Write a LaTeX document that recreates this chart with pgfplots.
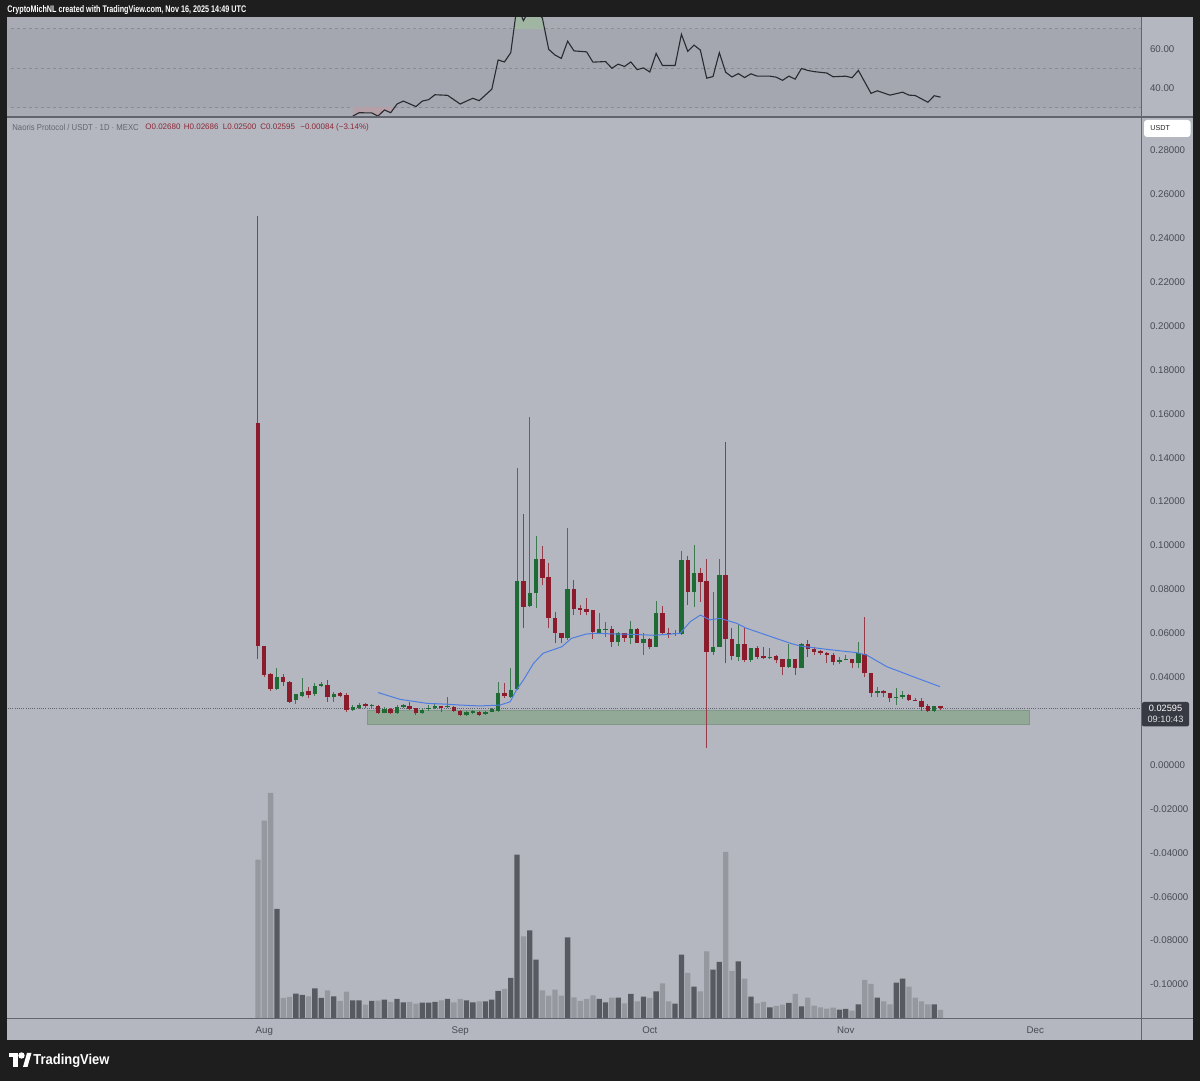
\documentclass[border=0pt]{standalone}
\usepackage{pgfplots}
\pgfplotsset{compat=1.18}
\usepackage{pgfplotstable}
\usepackage{graphicx}
\usepackage{fontspec}
\setmainfont{Liberation Sans}

\definecolor{frame}{RGB}{30,30,31}
\definecolor{mainbg}{RGB}{180,183,191}
\definecolor{rsibg}{RGB}{168,171,179}
\definecolor{rsiband}{RGB}{164,167,175}
\definecolor{rsidash}{RGB}{136,139,147}
\definecolor{rsiline}{RGB}{40,42,48}
\definecolor{obfill}{RGB}{160,182,162}
\definecolor{osfill}{RGB}{182,160,168}
\definecolor{sep}{RGB}{98,101,109}
\definecolor{upc}{RGB}{31,107,52}
\definecolor{dnc}{RGB}{139,28,43}
\definecolor{upw}{RGB}{62,122,80}
\definecolor{dnw}{RGB}{150,60,72}
\definecolor{volup}{RGB}{88,90,97}
\definecolor{voldn}{RGB}{150,152,159}
\definecolor{labelc}{RGB}{72,75,83}
\definecolor{titlec}{RGB}{100,103,112}
\definecolor{zonef}{RGB}{146,169,152}
\definecolor{zoned}{RGB}{128,152,136}
\definecolor{mac}{RGB}{78,125,225}
\definecolor{valred}{RGB}{140,40,55}
\definecolor{boxc}{RGB}{55,58,66}

\newcommand{\tvfont}{\fontsize{4.85pt}{5.5pt}\selectfont}
\newcommand{\infofont}{\fontsize{4.3pt}{5pt}\selectfont}
\newcommand{\valfont}{\fontsize{4.0pt}{5pt}\selectfont}

% day (0 = Aug 1), open, high, low, close, volume (relative)
\pgfplotstableread{
d o h l c v
-1 0.1559 0.2500 0.0482 0.0542 158.3
0 0.0544 0.0544 0.0402 0.0410 197.3
1 0.0415 0.0420 0.0337 0.0345 225
2 0.0348 0.0443 0.0342 0.0402 109
3 0.0402 0.0415 0.0360 0.0380 20
4 0.0380 0.0382 0.0281 0.0288 21
5 0.0296 0.0325 0.0278 0.0323 24.3
6 0.0316 0.0398 0.0308 0.0331 23
7 0.0337 0.0354 0.0304 0.0319 21.7
8 0.0323 0.0375 0.0314 0.0360 29.7
9 0.0361 0.0380 0.0354 0.0369 20
10 0.0363 0.0387 0.0288 0.0308 27.7
11 0.0308 0.0334 0.0288 0.0323 21.7
12 0.0327 0.0334 0.0308 0.0314 17
13 0.0318 0.0327 0.0243 0.0251 26.3
14 0.0251 0.0273 0.0248 0.0263 17.7
15 0.0258 0.0281 0.0253 0.0275 17.7
16 0.0276 0.0281 0.0258 0.0269 13.3
17 0.0270 0.0278 0.0258 0.0271 17
18 0.0269 0.0273 0.0233 0.0238 17.3
19 0.0238 0.0263 0.0235 0.0255 18.3
20 0.0255 0.0260 0.0231 0.0235 16
21 0.0235 0.0273 0.0231 0.0263 19
22 0.0263 0.0280 0.0258 0.0273 15.7
23 0.0270 0.0288 0.0251 0.0257 16
24 0.0258 0.0260 0.0228 0.0235 14.3
25 0.0235 0.0258 0.0232 0.0251 15.3
26 0.0256 0.0273 0.0248 0.0258 15.3
27 0.0258 0.0278 0.0253 0.0269 16
28 0.0269 0.0269 0.0243 0.0261 17.7
29 0.0265 0.0311 0.0258 0.0267 19
30 0.0265 0.0269 0.0243 0.0247 15.7
31 0.0247 0.0250 0.0225 0.0228 19
32 0.0228 0.0245 0.0222 0.0240 17.7
33 0.0238 0.0250 0.0233 0.0245 15.7
34 0.0243 0.0248 0.0225 0.0228 16.7
35 0.0232 0.0247 0.0228 0.0243 16.7
36 0.0243 0.0258 0.0240 0.0254 18.3
37 0.0247 0.0380 0.0243 0.0327 27
38 0.0327 0.0375 0.0304 0.0314 29
39 0.0311 0.0441 0.0303 0.0342 40
40 0.0345 0.1352 0.0342 0.0838 163.3
41 0.0840 0.1144 0.0626 0.0721 81.7
42 0.0724 0.1584 0.0718 0.0782 87.7
43 0.0782 0.1043 0.0714 0.0937 58.3
44 0.0937 0.0999 0.0820 0.0853 27.7
45 0.0858 0.0919 0.0626 0.0671 22.3
46 0.0671 0.0698 0.0554 0.0603 28.3
47 0.0603 0.0603 0.0554 0.0580 22.3
48 0.0580 0.1078 0.0569 0.0803 80.7
49 0.0803 0.0843 0.0683 0.0709 20.7
50 0.0717 0.0729 0.0683 0.0706 17
51 0.0709 0.0762 0.0683 0.0698 19
52 0.0706 0.0706 0.0573 0.0607 22.5
53 0.0603 0.0691 0.0595 0.0618 19
54 0.0615 0.0653 0.0585 0.0617 15.7
55 0.0618 0.0634 0.0539 0.0562 20.3
56 0.0562 0.0604 0.0542 0.0600 20.3
57 0.0600 0.0600 0.0562 0.0580 14.7
58 0.0580 0.0657 0.0550 0.0618 24
59 0.0618 0.0622 0.0555 0.0557 16.7
60 0.0557 0.0600 0.0501 0.0574 21.3
61 0.0574 0.0580 0.0530 0.0539 20
62 0.0539 0.0749 0.0539 0.0691 26.7
63 0.0691 0.0724 0.0592 0.0600 34.7
64 0.0601 0.0623 0.0577 0.0599 16.7
65 0.0598 0.0617 0.0589 0.0601 14.3
66 0.0597 0.0975 0.0592 0.0934 63.3
67 0.0934 0.0952 0.0729 0.0790 45
68 0.0790 0.1002 0.0721 0.0876 31.3
69 0.0876 0.0896 0.0744 0.0835 26.7
70 0.0838 0.0938 0.0077 0.0516 66.7
71 0.0516 0.0790 0.0501 0.0539 48.3
72 0.0539 0.0937 0.0539 0.0866 56
73 0.0866 0.1473 0.0463 0.0573 166
74 0.0573 0.0623 0.0480 0.0497 47
75 0.0493 0.0638 0.0475 0.0550 56.7
76 0.0550 0.0623 0.0471 0.0478 39.3
77 0.0478 0.0535 0.0471 0.0534 21.3
78 0.0534 0.0540 0.0481 0.0494 14.7
79 0.0497 0.0539 0.0481 0.0486 16
80 0.0486 0.0532 0.0481 0.0493 10.7
81 0.0497 0.0501 0.0463 0.0478 12
82 0.0482 0.0482 0.0410 0.0445 13.3
83 0.0445 0.0551 0.0443 0.0482 15
84 0.0482 0.0485 0.0410 0.0441 24
85 0.0441 0.0555 0.0441 0.0550 11.7
86 0.0550 0.0569 0.0493 0.0527 20.3
87 0.0530 0.0538 0.0502 0.0516 12.3
88 0.0519 0.0523 0.0502 0.0509 10.7
89 0.0510 0.0513 0.0463 0.0501 9.3
90 0.0501 0.0510 0.0456 0.0471 10.3
91 0.0471 0.0490 0.0461 0.0478 8.3
92 0.0478 0.0501 0.0478 0.0483 9
93 0.0483 0.0483 0.0441 0.0466 7.3
94 0.0463 0.0562 0.0441 0.0509 13.7
95 0.0506 0.0676 0.0402 0.0418 38
96 0.0418 0.0418 0.0311 0.0327 34
97 0.0327 0.0357 0.0311 0.0338 20.3
98 0.0338 0.0340 0.0310 0.0327 16.7
99 0.0327 0.0327 0.0288 0.0304 13.7
100 0.0307 0.0349 0.0273 0.0309 35.3
101 0.0311 0.0338 0.0300 0.0318 39.3
102 0.0319 0.0322 0.0292 0.0296 31.3
103 0.0298 0.0303 0.0292 0.0294 20.3
104 0.0293 0.0303 0.0247 0.0266 16.7
105 0.0269 0.0277 0.0242 0.0246 13.7
106 0.0246 0.0270 0.0243 0.0268 13.7
107 0.02680 0.02686 0.02500 0.02595 8
}\candles

\pgfplotstableread{
d r
14 25.9
15 27.6
17 27.5
18 25.9
19 29.0
20 27.6
21 32.0
22 33.5
24 30.7
25 33.5
26 34.2
27 36.7
29 36.4
31 32.0
32 33.5
33 34.9
34 33.7
36 39.5
37 54.3
38 53.3
39 58.0
40 82
41 74.2
42 80
43 79
44 75.5
45 59.7
46 56.8
47 55.1
48 63.8
49 58.9
51 58.4
52 53.2
54 53.5
55 50.1
56 52.2
57 51.0
58 53.3
59 49.4
60 50.3
61 48.2
62 57.6
63 51.5
65 51.5
66 67.3
67 58.7
68 61.8
69 59.3
70 45.1
71 45.9
72 58.0
73 48.1
74 45.7
75 47.4
76 45.4
77 47.3
78 46.1
80 46.1
81 45.6
82 44.0
83 46.1
84 44.6
85 50.0
86 49.0
87 48.4
89 47.7
90 45.8
92 46.1
93 45.3
94 49.0
96 37.4
97 38.7
99 36.5
101 38.0
102 36.5
103 36.3
105 32.9
106 36.2
107 35.5
}\rsi

\pgfplotstableread{
d m
18.0 0.0330
21.5 0.0299
25.7 0.0281
28.9 0.0277
31.0 0.0273
34.1 0.0269
37.3 0.0273
38.9 0.0288
39.9 0.0342
41.0 0.0387
42.6 0.0463
44.1 0.0509
47.1 0.0539
48.6 0.0577
51.0 0.0597
52.6 0.0600
55.2 0.0597
58.4 0.0595
61.6 0.0591
63.7 0.0595
65.8 0.0600
67.4 0.0653
69.0 0.0683
70.5 0.0661
72.1 0.0668
74.7 0.0646
76.3 0.0623
83.3 0.0554
84.8 0.0542
89.0 0.0527
93.7 0.0512
95.3 0.0501
98.5 0.0448
102.7 0.0402
106.9 0.0357
}\ma

\pgfplotsset{
  tvbase/.style={scale only axis, anchor=south west, width=566.5pt,
    xmin=-40.55, xmax=138.72,
    axis line style={draw=none}, tick style={draw=none}, major tick length=0pt,
    /pgf/number format/assume math mode=true,
    tick label style={font=\tvfont, text=labelc},
    yticklabel style={xshift=1pt}},
  candle/.style n args={2}{draw=none, mark=none, forget plot,
    error bars/.cd, y dir=plus, y explicit, error mark=none,
    error bar style={line width=#2, draw=#1, solid}},
}

\begin{document}
\begin{tikzpicture}
\useasboundingbox (0,0) rectangle (600pt,540.5pt);
\begin{scope}[x=0.5pt,y=-0.5pt,yshift=540.5pt]
  \fill[frame] (0,0) rectangle (1200,1081);
  \fill[mainbg] (7,17) rectangle (1193,1040);
  \fill[rsibg] (7,17.5) rectangle (1141,116);
\end{scope}

% ---------- volume ----------
\begin{axis}[tvbase, at={(4pt,31.5pt)}, height=450pt, ymin=0, ymax=900, hide axis]
\addplot[ybar, bar width=0.84, bar shift=0pt, fill=volup, draw=none]
  table[x expr={\thisrow{c}>=\thisrow{o} ? \thisrow{d} : nan}, y=v] {\candles};
\addplot[ybar, bar width=0.84, bar shift=0pt, fill=voldn, draw=none]
  table[x expr={\thisrow{c}<\thisrow{o} ? \thisrow{d} : nan}, y=v] {\candles};
\end{axis}

% ---------- price ----------
\begin{axis}[tvbase, at={(4pt,31.5pt)}, height=450pt,
  ymin=-0.11526, ymax=0.29476,
  xtick={0,31,61,92,122}, xticklabels={Aug,Sep,Oct,Nov,Dec},
  xticklabel style={yshift=-1pt},
  ytick={-0.1,-0.08,-0.06,-0.04,-0.02,0,0.04,0.06,0.08,0.1,0.12,0.14,0.16,0.18,0.2,0.22,0.24,0.26,0.28},
  yticklabel pos=right, scaled y ticks=false,
  yticklabel={\pgfmathprintnumber[fixed,fixed zerofill,precision=5]{\tick}},
]
\addplot[fill=zonef, draw=zoned, line width=0.4pt] coordinates {(16.3,0.0187) (121,0.0187) (121,0.0251) (16.3,0.0251)} -- cycle;
\addplot[color=sep, line width=0.35pt, dash pattern=on 0.5pt off 0.6pt] coordinates {(-40.55,0.02595) (138.72,0.02595)};
% wicks
\addplot[candle={upw}{0.5pt}]
  table[x expr={\thisrow{c}>=\thisrow{o} ? \thisrow{d} : nan}, y=l, y error plus expr={\thisrow{h}-\thisrow{l}}] {\candles};
\addplot[candle={dnw}{0.5pt}]
  table[x expr={\thisrow{c}<\thisrow{o} ? \thisrow{d} : nan}, y=l, y error plus expr={\thisrow{h}-\thisrow{l}}] {\candles};
% bodies
\addplot[candle={upc}{2.2pt}]
  table[x expr={\thisrow{c}>=\thisrow{o} ? \thisrow{d} : nan}, y=o, y error plus expr={max(\thisrow{c}-\thisrow{o},0.0004)}] {\candles};
\addplot[candle={dnc}{2.2pt}]
  table[x expr={\thisrow{c}<\thisrow{o} ? \thisrow{d} : nan}, y=c, y error plus expr={max(\thisrow{o}-\thisrow{c},0.0004)}] {\candles};
% moving average
\addplot[color=mac, line width=0.5pt, mark=none] table[x=d, y=m] {\ma};
\end{axis}

% ---------- RSI ----------
\begin{axis}[tvbase, at={(4pt,482.5pt)}, height=49.25pt, ymin=25.95, ymax=75.8,
  xtick=\empty, ytick={40,60}, yticklabel pos=right,
  yticklabel={\pgfmathprintnumber[fixed,fixed zerofill,precision=2]{\tick}},
]
\fill[rsiband] (axis cs:-41,30) rectangle (axis cs:139,70);
\draw[rsidash, line width=0.5pt, dash pattern=on 1.5pt off 1.5pt] (axis cs:-41,70) -- (axis cs:139,70);
\draw[rsidash, line width=0.5pt, dash pattern=on 1.5pt off 1.5pt] (axis cs:-41,50) -- (axis cs:139,50);
\draw[rsidash, line width=0.5pt, dash pattern=on 1.5pt off 1.5pt] (axis cs:-41,30) -- (axis cs:139,30);
\end{axis}
\begin{axis}[tvbase, at={(4pt,526.02pt)}, height=5.75pt, ymin=70, ymax=75.82, hide axis]
\addplot[fill=obfill, draw=none] table[x=d, y=r] {\rsi} \closedcycle;
\end{axis}
\begin{axis}[tvbase, at={(4pt,482.5pt)}, height=4.0pt, ymin=25.95, ymax=30, hide axis]
\addplot[fill=osfill, draw=none] table[x=d, y=r] {\rsi} -- (axis cs:107,100) -- (axis cs:14,100) -- cycle;
\end{axis}
\begin{axis}[tvbase, at={(4pt,482.5pt)}, height=49.25pt, ymin=25.95, ymax=75.8, hide axis]
\addplot[color=rsiline, line width=0.55pt, mark=none] table[x=d, y=r] {\rsi};
\end{axis}

% ---------- frame, labels ----------
\begin{scope}[x=0.5pt,y=-0.5pt,yshift=540.5pt]
  \draw[sep, line width=1pt] (7,116.8) -- (1193,116.8);
  \draw[sep, line width=0.5pt] (1141.5,17) -- (1141.5,1040);
  \draw[sep, line width=0.5pt] (7,1018.5) -- (1193,1018.5);
  \node[anchor=west, text=white, inner sep=0pt] at (7,10)
    {\scalebox{0.75}[1]{\fontsize{4.8pt}{5pt}\selectfont\bfseries CryptoMichNL created with TradingView.com, Nov 16, 2025 14:49 UTC}};
  \node[anchor=west, text=titlec, inner sep=0pt] at (12,127)
    {\scalebox{0.9}[1]{\infofont Naoris Protocol / USDT · 1D · MEXC}};
  \node[anchor=west, text=valred, inner sep=0pt] at (145,127) {\valfont O0.02680};
  \node[anchor=west, text=valred, inner sep=0pt] at (183.5,127) {\valfont H0.02686};
  \node[anchor=west, text=valred, inner sep=0pt] at (222.5,127) {\valfont L0.02500};
  \node[anchor=west, text=valred, inner sep=0pt] at (260,127) {\valfont C0.02595};
  \node[anchor=west, text=valred, inner sep=0pt] at (300,127) {\valfont −0.00084 (−3.14\%)};
  \fill[white, rounded corners=1.5pt] (1144,120) rectangle (1190.5,137);
  \node[anchor=west, text=black!85, inner sep=0pt] at (1150,128.5) {\fontsize{3.6pt}{4pt}\selectfont USDT};
  \fill[boxc, rounded corners=1pt] (1142,702) rectangle (1189,726.5);
  \node[text=white, inner sep=0pt] at (1165.5,708.3) {\fontsize{4.6pt}{5pt}\selectfont 0.02595};
  \node[text=white!88!black, inner sep=0pt] at (1165.5,719.5) {\fontsize{4.6pt}{5pt}\selectfont 09:10:43};
  % TradingView logo
  \fill[white] (9,1053) rectangle (18,1057);
  \fill[white] (13,1053) rectangle (18,1067);
  \fill[white] (21.5,1055.5) circle (1.6pt);
  \fill[white] (23,1067) -- (27.5,1067) -- (31.5,1053) -- (27,1053) -- cycle;
  \node[anchor=west, text=white, inner sep=0pt] at (33,1060.5)
    {\scalebox{0.9}[1]{\fontsize{7.2pt}{8pt}\selectfont\bfseries TradingView}};
\end{scope}
\end{tikzpicture}
\end{document}
